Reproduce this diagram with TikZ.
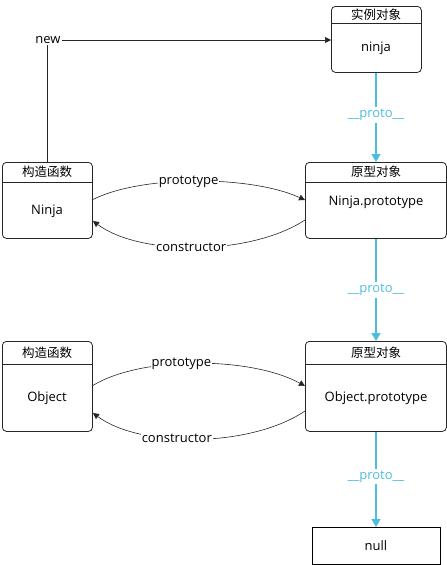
\documentclass[tikz,border=0pt]{standalone}
\usepackage{fontspec}
\setmainfont{Open Sans}
\newfontfamily\cjk{Noto Sans CJK SC}
\usetikzlibrary{calc,arrows.meta}
\definecolor{protoblue}{RGB}{78,190,224}
\tikzset{
  box/.style={draw=black!85, rounded corners=4pt, line width=0.8pt, anchor=north west, inner sep=0pt},
  plainbox/.style={draw=black, line width=0.8pt, anchor=north west, inner sep=0pt},
  txt/.style={font=\fontsize{13}{15}\selectfont, inner sep=1pt},
  hdr/.style={font=\cjk\fontsize{12.5}{14}\selectfont, inner sep=0pt},
  lbl/.style={font=\fontsize{13}{15}\selectfont, fill=white, inner sep=1pt},
  conn/.style={draw=black!85, line width=0.6pt, -{Triangle[length=6pt,width=6pt]}},
  proto/.style={draw=protoblue, line width=1.6pt, -{Triangle[length=8pt,width=9pt]}},
  plbl/.style={font=\fontsize{13}{15}\selectfont, text=protoblue, fill=white, inner sep=2pt}
}
\begin{document}
\begin{tikzpicture}[x=1pt,y=-1pt]
\useasboundingbox (0,0) rectangle (447,565);
% boxes
\node[box, minimum width=90pt, minimum height=66pt] (inst) at (331,6) {};
\node[box, minimum width=90pt, minimum height=76pt] (ctor1) at (2,162) {};
\node[box, minimum width=141pt, minimum height=76pt] (proto1) at (305,162) {};
\node[box, minimum width=90pt, minimum height=90pt] (ctor2) at (2,341) {};
\node[box, minimum width=141pt, minimum height=90pt] (proto2) at (305,341) {};
\node[plainbox, minimum width=128pt, minimum height=37pt] (nullb) at (312,527) {};
% header lines
\draw[black!85, line width=0.8pt] ($(inst.north west)+(0,17)$) coordinate (i1) -- ($(inst.north east)+(0,17)$) coordinate (i2);
\draw[black!85, line width=0.8pt] ($(ctor1.north west)+(0,20)$) coordinate (c1a) -- ($(ctor1.north east)+(0,20)$) coordinate (c1b);
\draw[black!85, line width=0.8pt] ($(proto1.north west)+(0,20)$) coordinate (p1a) -- ($(proto1.north east)+(0,20)$) coordinate (p1b);
\draw[black!85, line width=0.8pt] ($(ctor2.north west)+(0,23)$) coordinate (c2a) -- ($(ctor2.north east)+(0,23)$) coordinate (c2b);
\draw[black!85, line width=0.8pt] ($(proto2.north west)+(0,23)$) coordinate (p2a) -- ($(proto2.north east)+(0,23)$) coordinate (p2b);
% header texts
\node[hdr] (instH) at (376,15) {实例对象};
\node[hdr] (ctor1H) at (47,172) {构造函数};
\node[hdr] (proto1H) at (376,172) {原型对象};
\node[hdr] (ctor2H) at (47,353) {构造函数};
\node[hdr] (proto2H) at (376,353) {原型对象};
% body texts
\node[txt] (instT) at (376,48) {ninja};
\node[txt] (ctor1T) at (47,211) {Ninja};
\node[txt] (proto1T) at (376,202) {Ninja.prototype};
\node[txt] (ctor2T) at (47,398) {Object};
\node[txt] (proto2T) at (376,398) {Object.prototype};
\node[txt] (nullT) at (376,546) {null};
% new connector
\coordinate (newA) at (47,162);
\coordinate (newB) at (47,40);
\coordinate (newC) at (331,40);
\draw[conn] (newA) -- (newB) -- (newC);
\node[lbl] (newL) at (48,40) {new};
% prototype / constructor pair 1
\coordinate (s1) at (92,200);
\coordinate (e1) at (305,200);
\draw[conn] (s1) .. controls (140,175) and (250,175) .. (e1) node[lbl, pos=0.47] (pl1) {prototype};
\coordinate (s2) at (305,220);
\coordinate (e2) at (93,221);
\draw[conn] (s2) .. controls (250,256) and (140,256) .. (e2) node[lbl, pos=0.52] (cl1) {constructor};
% pair 2
\coordinate (s3) at (92,386);
\coordinate (e3) at (305,386);
\draw[conn] (s3) .. controls (140,356) and (250,356) .. (e3) node[lbl, pos=0.44] (pl2) {prototype};
\coordinate (s4) at (305,411);
\coordinate (e4) at (93,413);
\draw[conn] (s4) .. controls (250,448) and (140,448) .. (e4) node[lbl, pos=0.58] (cl2) {constructor};
% proto arrows
\draw[proto] (inst.south -| instT) -- (proto1.north -| instT) node[plbl, pos=0.47] (pa1) {\_\_proto\_\_};
\draw[proto] (proto1.south -| instT) -- (proto2.north -| instT) node[plbl, pos=0.5] (pa2) {\_\_proto\_\_};
\draw[proto] (proto2.south -| instT) -- (nullb.north -| instT) node[plbl, pos=0.47] (pa3) {\_\_proto\_\_};
\end{tikzpicture}
\end{document}
